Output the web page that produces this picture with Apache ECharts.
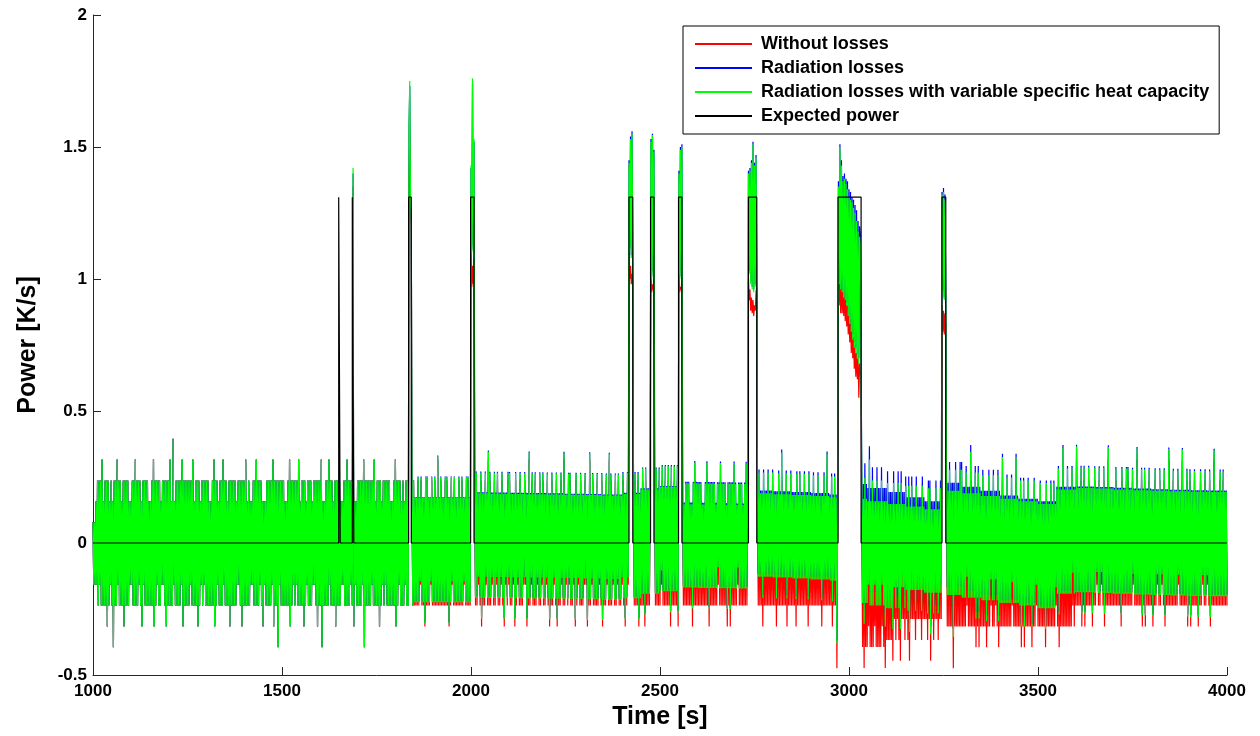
<!DOCTYPE html>
<html><head><meta charset="utf-8">
<script src="https://cdn.jsdelivr.net/npm/echarts@6/dist/echarts.min.js"></script>
<style>html,body{margin:0;padding:0;background:#fff}#c{width:1260px;height:736px}</style>
</head><body><div id="c"></div>
<script>
// ---------------- DATA ----------------
// Signals are quantised: each character is a level code (hex digit, '5' = 0),
// one sample every 2 s; '.' = sample given in the pulse lists.
const STEP = 0.079;           // quantisation step of the signal [K/s]
const SAMPLE = 2;             // s between samples
const regionStart = [1000, 1844, 2010, 2430, 2486, 2560, 2758, 3034, 3258];
const regionEnd   = [1834, 1998, 2416, 2474, 2548, 2732, 2970, 3244, 4000];

const noiseA = "636373" + "82838292728281827382" + "70828293828272818282" + "82737382829282838271" +
  "83828282727282918283" + "82827383828182829272" + "a3728282828391828282" + "82838292728281827382" +
  "83828282727282918283" + "72828293828272818282" + "82827383828182829272" + "82737382829282838271" +
  "73728282828391828280" + "83828282727282918283" + "82838292728281827382" + "82827383828182829072" +
  "72828293828272818282" + "827373828292828382.1" + "73728282828390828282" + "82838292728281827382" +
  "83828282727282918283" + "827282738282";
const noiseB = "72827272827382727182" + "82727382728272927282" + "72728282717283728272" + "728272827372828272";
const noiseC = "72827372817272837292" + "82737282738272738271" + "73728382727371827372" + "82727383717292738272" +
  "82737282738272738271" + "72827372817272837292" + "73728382727371827372" + "82727383717292738272" +
  "72827372817272837292" + "82737282738272738271" + "7283";
const noiseD = "72827281727282718272728";
const noiseE = "72827282738272827282718272827281";
const noiseF = "62627272726261728272" + "72727262627282717272" + "72726273728272727261" + "72717272827263727272" + "627282" + "7";
const noiseG = "73837372837373837373" + "83737273837393737382" + "73738373737283738373" + "73837372837373837373" +
  "83737273837393737382" + "738370" + "7";
const noiseH = "72718272739272827372" + "82727283727172827272" + "71837273827183737283" + "72817383737283737372" +
  "83737372838173727383" + "727383";
const noiseI = "72728272707282727282" + "82727283727292727281" + "72817272827271728273" + "72827372817272927272" +
  "82727283727292727281" + "72817272827271728273" + "72728272727182727282" + "72827372817272927272" +
  "82727283727292727281" + "72817272827271728273" + "72827372817272927272" + "72728272727182727282" +
  "82727283727292727281" + "72817272827271728273" + "72827372817272927272" + "82727283727292727281" +
  "72817272827271728273" + "72827372817272927272" + "728272827272";
const noiseRegions = [noiseA, noiseB, noiseC, noiseD, noiseE, noiseF, noiseG, noiseH, noiseI];

// loss-correction offsets per 50 s bin (starting at 1000 s)
const offsetGreen = [0,0,0,0,0,0,0,0,0,0,0,0,0,0,0,0,0,
  0.013,0.013,0.013,
  0.030,0.029,0.028,0.027,0.026,0.025,0.024,0.022,0.028,0.045,
  0.054,0.068,0.067,0.066,0.065,0.030,0.027,0.024,0.020,0.015,
  0.010,0.000,-0.010,-0.020,-0.030,0.040,0.030,0.020,0.010,0.000,
  -0.010,0.045,0.050,0.048,0.045,0.042,0.040,0.038,0.036,0.035];
const offsetBlue = [0,0,0,0,0,0,0,0,0,0,0,0,0,0,0,0,0,
  0.015,0.015,0.015,
  0.034,0.033,0.032,0.031,0.030,0.029,0.028,0.026,0.032,0.049,
  0.058,0.074,0.073,0.072,0.071,0.041,0.038,0.035,0.031,0.026,
  0.065,0.050,0.035,0.015,0.000,0.070,0.055,0.040,0.022,0.010,
  0.000,0.055,0.056,0.054,0.051,0.048,0.046,0.044,0.042,0.041];
const offsetRed = [0,0,0,0,0,0,0,0,0,0,0,0,0,0,0,0,0,0,0,0,
  0,0,0,0,0,0,0,0,0,0,0,0,0,0,0,
  -0.079,-0.079,-0.079,-0.079,-0.079,
  -0.157,-0.157,-0.130,-0.130,-0.130,
  -0.079,-0.079,-0.079,-0.079,-0.079,-0.079,-0.079,
  0,0,0,0,0,0,0,0];

// samples during heating pulses
const pulseTimes = [1688,
  1836,1838,1840,1842,
  2000,2002,2004,2006,2008,
  2418,2420,2422,2424,2426,2428,
  2476,2478,2480,2482,2484,
  2550,2552,2554,2556,2558,
  2734,2736,2738,2740,2742,2744,2746,2748,2750,2752,2754,2756,
  2972,2974,2976,2978,2980,2982,2984,2986,2988,2990,2992,2994,2996,2998,3000,3002,
  3004,3006,3008,3010,3012,3014,3016,3018,3020,3022,3024,3026,3028,3030,3032,
  3246,3248,3250,3252,3254,3256];
const greenPulse = [1.42,
  1.58,1.75,1.30,1.22,
  1.43,1.10,1.76,1.12,1.53,
  1.44,1.12,1.53,1.08,1.55,1.06,
  1.52,1.00,1.545,1.02,1.48,
  1.40,1.02,1.49,1.00,1.50,
  1.40,1.02,1.41,0.98,1.44,0.96,1.51,0.95,1.43,0.97,1.46,1.02,
  1.35,0.98,1.50,0.96,1.43,0.95,1.37,0.93,1.38,0.92,1.36,0.90,1.34,0.86,1.31,0.83,
  1.30,0.80,1.29,0.77,1.27,0.74,1.25,0.72,1.22,0.70,1.18,0.68,1.16,1.13,0.66,
  1.32,0.95,1.33,0.92,1.30,0.93];
const bluePulse = [1.40,
  1.57,1.73,1.30,1.22,
  1.42,1.11,1.74,1.13,1.52,
  1.45,1.12,1.54,1.09,1.56,1.06,
  1.53,1.01,1.55,1.03,1.49,
  1.41,1.03,1.50,1.01,1.51,
  1.41,1.03,1.42,0.99,1.45,0.97,1.52,0.96,1.44,0.98,1.47,1.03,
  1.37,0.99,1.51,0.97,1.45,0.96,1.39,0.94,1.40,0.93,1.38,0.91,1.37,0.88,1.34,0.85,
  1.33,0.82,1.31,0.79,1.30,0.76,1.28,0.74,1.26,0.72,1.22,0.70,1.20,1.17,0.68,
  1.33,0.96,1.345,0.93,1.32,0.94];
const redPulse = [1.35,
  1.40,1.55,1.28,1.20,
  1.10,0.97,1.05,0.98,1.08,
  1.10,1.00,1.05,0.98,1.02,1.00,
  1.02,0.95,0.98,0.96,1.00,
  1.02,0.95,0.97,0.96,1.00,
  1.00,0.92,0.96,0.88,0.93,0.87,0.92,0.86,0.90,0.88,0.95,0.97,
  1.10,0.90,1.05,0.87,1.00,0.87,0.97,0.86,0.95,0.84,0.93,0.82,0.90,0.79,0.88,0.76,
  0.85,0.72,0.82,0.70,0.78,0.66,0.75,0.63,0.72,0.62,0.70,0.55,0.68,0.64,0.63,
  0.90,0.80,0.88,0.79,0.87,0.82];

// expected power
const pulseStart = [1650, 1686, 1835, 1999, 2418, 2475, 2549, 2734, 2971, 3246];
const pulseEnd   = [1654, 1690, 1842, 2008, 2428, 2484, 2558, 2756, 3032, 3256];
const expectedLevel = 1.31;

const seriesNames = ['Without losses', 'Radiation losses',
  'Radiation losses with variable specific heat capacity', 'Expected power'];
const xTicks = {min: 1000, max: 4000, step: 500};
const yTicks = {min: -0.5, max: 2, step: 0.5};

// ---------------- BUILD ----------------
function build(offsets, pulseVals) {
  const pts = [];
  noiseRegions.forEach((str, r) => {
    for (let j = 0; j < str.length; j++) {
      const t = regionStart[r] + SAMPLE * j;
      if (t > regionEnd[r]) break;
      const ch = str[j];
      if (ch === '.') continue;
      const bin = Math.min(offsets.length - 1, Math.floor((t - 1000) / 50));
      const v = (parseInt(ch, 16) - 5) * STEP + offsets[bin];
      pts.push([t, Math.round(v * 10000) / 10000]);
    }
  });
  pulseTimes.forEach((t, k) => pts.push([t, pulseVals[k]]));
  pts.sort((a, b) => a[0] - b[0]);
  return pts;
}
const redData = build(offsetRed, redPulse);
const blueData = build(offsetBlue, bluePulse);
const greenData = build(offsetGreen, greenPulse);
const blackData = [[xTicks.min, 0]];
pulseStart.forEach((s, k) => {
  blackData.push([s, 0], [s, expectedLevel], [pulseEnd[k], expectedLevel], [pulseEnd[k], 0]);
});
blackData.push([xTicks.max, 0]);

const FONT = '"Liberation Sans", Arial, Helvetica, sans-serif';
const AX = '#262626';
function lineSeries(name, data, color, z, w) {
  return {
    name, type: 'line', data, z, showSymbol: false, symbol: 'none',
    animation: false, clip: true,
    lineStyle: {color, width: w}, itemStyle: {color},
    emphasis: {disabled: true}
  };
}
const chart = echarts.init(document.getElementById('c'), null, {renderer: 'canvas'});
chart.setOption({
  animation: false,
  backgroundColor: '#ffffff',
  grid: {left: 93, right: 33, top: 15, bottom: 61, containLabel: false},
  legend: {
    orient: 'vertical', left: 683, top: 26,
    backgroundColor: '#fff', borderColor: '#000', borderWidth: 1,
    padding: [8, 10, 8, 12], itemGap: 4, itemWidth: 57, itemHeight: 2, icon: 'rect',
    textStyle: {fontFamily: FONT, fontWeight: 'bold', fontSize: 18, color: '#000', padding: [0, 0, 0, 4], lineHeight: 20},
    data: seriesNames
  },
  xAxis: {
    type: 'value', min: xTicks.min, max: xTicks.max, interval: xTicks.step, position: 'bottom',
    name: 'Time [s]', nameLocation: 'middle', nameGap: 29,
    nameTextStyle: {fontFamily: FONT, fontSize: 25, fontWeight: 'bold', color: '#000'},
    axisLine: {show: true, onZero: false, lineStyle: {color: AX, width: 1}},
    axisTick: {show: true, inside: true, length: 8, lineStyle: {color: AX}},
    axisLabel: {fontFamily: FONT, fontSize: 17, fontWeight: 'bold', color: '#000', margin: 8,
      formatter: v => String(v)},
    splitLine: {show: false}
  },
  yAxis: {
    type: 'value', min: yTicks.min, max: yTicks.max, interval: yTicks.step, position: 'left',
    name: 'Power [K/s]', nameLocation: 'middle', nameGap: 52, nameRotate: 90,
    nameTextStyle: {fontFamily: FONT, fontSize: 25, fontWeight: 'bold', color: '#000'},
    axisLine: {show: true, onZero: false, lineStyle: {color: AX, width: 1}},
    axisTick: {show: true, inside: true, length: 8, lineStyle: {color: AX}},
    axisLabel: {fontFamily: FONT, fontSize: 17, fontWeight: 'bold', color: '#000', margin: 6,
      formatter: v => String(v)},
    splitLine: {show: false}
  },
  series: [
    lineSeries(seriesNames[0], redData, '#ff0000', 2, 1.2),
    lineSeries(seriesNames[1], blueData, '#0000ff', 3, 1.2),
    lineSeries(seriesNames[2], greenData, '#00ff00', 4, 1.2),
    lineSeries(seriesNames[3], blackData, '#000000', 5, 1.2)
  ]
});
</script></body></html>
